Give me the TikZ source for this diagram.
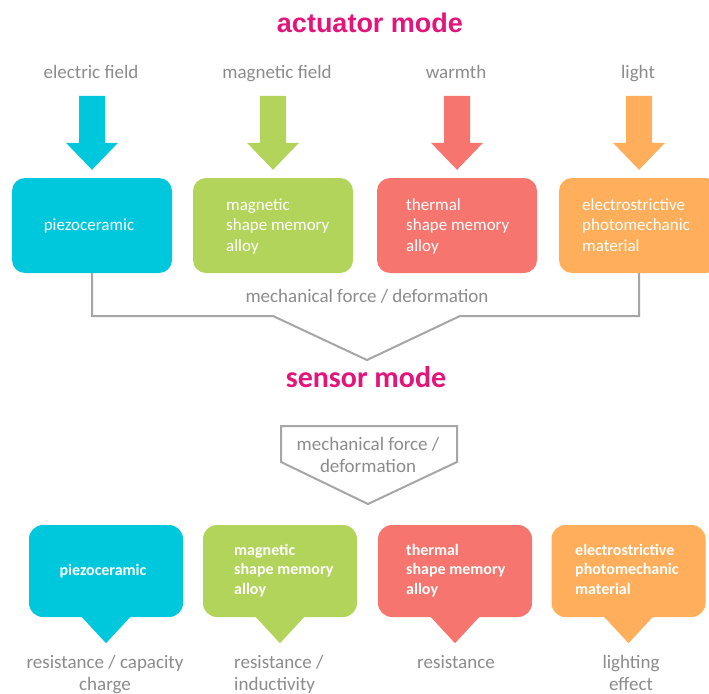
\documentclass[tikz,border=0pt]{standalone}
\usepackage{fontspec}
\setmainfont{Carlito}
\newfontfamily\titlefont{Liberation Sans}
\definecolor{cCyan}{HTML}{00C8DC}
\definecolor{cGreen}{HTML}{B2D45A}
\definecolor{cRed}{HTML}{F6766F}
\definecolor{cOrange}{HTML}{FFAF5C}
\definecolor{cPink}{HTML}{E3157B}
\definecolor{cText}{HTML}{8C8C8C}
\definecolor{cLine}{HTML}{A6A6A6}
\tikzset{
  topbox/.style={rounded corners=13pt, minimum width=160pt, minimum height=95pt, inner sep=0pt},
  botbox/.style={rounded corners=14pt, minimum width=154pt, minimum height=92pt, inner sep=0pt},
  graytext/.style={text=cText, font=\fontsize{19}{22}\selectfont, inner sep=0pt, align=center},
  graytextl/.style={text=cText, font=\fontsize{19}{22}\selectfont, inner sep=0pt, align=left},
  toptext/.style={text=white, font=\fontsize{17}{20.5}\selectfont, inner sep=0pt, align=left},
  bottext/.style={text=white, font=\bfseries\fontsize{16}{19.5}\selectfont, inner sep=0pt, align=left},
  conn/.style={draw=cLine, line width=2pt},
  titletext/.style={text=cPink, inner sep=0pt}
}
\begin{document}
\begin{tikzpicture}[x=1pt,y=-1pt]
\clip (0,0) rectangle (709,693);
\fill[white] (0,0) rectangle (709,693);

% titles
\node[titletext, font=\titlefont\bfseries\fontsize{27}{30}\selectfont, anchor=base] (tact) at (370,33) {actuator mode};
\node[titletext, font=\bfseries\fontsize{30}{34}\selectfont, anchor=base] (tsen) at (366,387) {sensor mode};

% input labels
\node[graytext, anchor=base] (l1) at (91,78) {electric field};
\node[graytext, anchor=base] (l2) at (277,78) {magnetic field};
\node[graytext, anchor=base] (l3) at (456,78) {warmth};
\node[graytext, anchor=base] (l4) at (638,78) {light};

% actuator boxes
\node[topbox, fill=cCyan]   (a1) at (92,225.5) {};
\node[topbox, fill=cGreen]  (a2) at (273,225.5) {};
\node[topbox, fill=cRed]    (a3) at (457,225.5) {};
\node[topbox, fill=cOrange] (a4) at (639,225.5) {};

\node[toptext, anchor=base] (a1t) at (89,230) {piezoceramic};
\node[toptext, anchor=base west] (a2t) at (226,251) {magnetic\\shape memory\\alloy};
\node[toptext, anchor=base west] (a3t) at (406,251) {thermal\\shape memory\\alloy};
\node[toptext, anchor=base west] (a4t) at (582,251) {electrostrictive\\photomechanic\\material};

% fat arrows
\foreach \b/\c in {a1/cCyan, a2/cGreen, a3/cRed, a4/cOrange}{
  \fill[\c] ([yshift=8pt]\b.north) -- ++(-26,-27) -- ++(13,0) -- ++(0,-47) -- ++(26,0) -- ++(0,47) -- ++(13,0) -- cycle;
}

% bracket
\coordinate (vl) at (273,316);
\coordinate (vt) at (367,360);
\coordinate (vr) at (460,316);
\draw[conn] (a1.south) -- ++(0,43) -- (vl) -- (vt) -- (vr) -| (a4.south);
\node[graytext, anchor=base] (mf) at (367,302) {mechanical force / deformation};

% pentagon
\coordinate (p1) at (281,426);
\coordinate (p2) at (457,426);
\coordinate (p3) at (457,462);
\coordinate (p4) at (368,504);
\coordinate (p5) at (281,462);
\draw[conn] (p1) -- (p2) -- (p3) -- (p4) -- (p5) -- cycle;
\node[graytext, anchor=base] (pt) at (368,472) {mechanical force /\\deformation};

% sensor boxes
\node[botbox, fill=cCyan]   (s1) at (106,571) {};
\node[botbox, fill=cGreen]  (s2) at (280,571) {};
\node[botbox, fill=cRed]    (s3) at (455,571) {};
\node[botbox, fill=cOrange] (s4) at (628.5,571) {};
\foreach \b/\c in {s1/cCyan, s2/cGreen, s3/cRed, s4/cOrange}{
  \fill[\c] ([xshift=-25pt,yshift=1pt]\b.south) -- ([yshift=-26pt]\b.south) -- ([xshift=25pt,yshift=1pt]\b.south) -- cycle;
}
\node[bottext, anchor=base] (s1t) at (103,575) {piezoceramic};
\node[bottext, anchor=base west] (s2t) at (234,594) {magnetic\\shape memory\\alloy};
\node[bottext, anchor=base west] (s3t) at (406,594) {thermal\\shape memory\\alloy};
\node[bottext, anchor=base west] (s4t) at (575,594) {electrostrictive\\photomechanic\\material};

% outputs
\node[graytext, anchor=base] (o1) at (105,690) {resistance / capacity\\charge};
\node[graytextl, anchor=base west] (o2) at (234,690) {resistance /\\inductivity};
\node[graytext, anchor=base] (o3) at (456,668) {resistance};
\node[graytext, anchor=base] (o4) at (631,690) {lighting\\effect};
\end{tikzpicture}
\end{document}
